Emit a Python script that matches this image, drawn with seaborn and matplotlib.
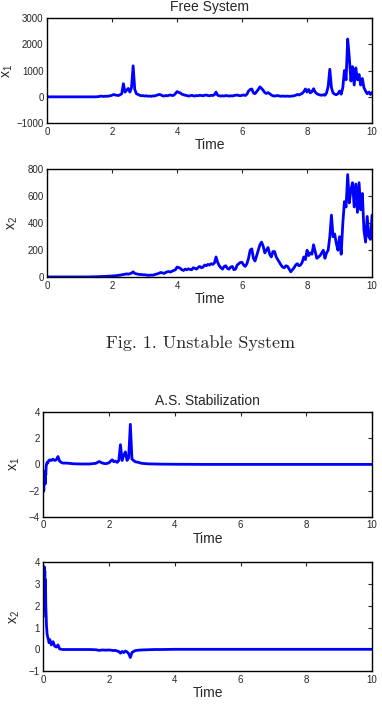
import numpy as np
import pandas as pd
import matplotlib
matplotlib.use("Agg")
import matplotlib.pyplot as plt
import seaborn as sns

# ===== data =====
# Free system: grid of 0.05 from 0 to 10
t_free = np.round(np.arange(0, 10.0001, 0.05), 2)

x1_free = [
    0, 0, 0, 0, 0, 0, 0, 0, 0, 0, 0, 0, 0, 0, 0, 0, 0, 0, 0, 0,
    0, 0, 0, 0, 0, 0, 0, 0, 0, 0, 0, 5, 10, 30, 20, 15, 25, 20, 30, 40,
    60, 90, 70, 60, 50, 80, 120, 500, 180, 250, 320, 180, 350, 1180, 280, 120, 90, 60, 40, 50,
    30, 40, 25, 30, 20, 35, 30, 50, 70, 90, 80, 40, 30, 50, 40, 60, 70, 50, 60, 120,
    200, 170, 150, 100, 80, 60, 50, 30, 40, 60, 40, 30, 50, 40, 60, 50, 40, 60, 70, 50,
    40, 60, 50, 80, 180, 60, 40, 30, 40, 30, 50, 40, 30, 40, 30, 50, 60, 70, 50, 40,
    60, 70, 50, 100, 220, 280, 300, 150, 120, 200, 280, 380, 320, 250, 160, 130, 160, 120, 70, 40,
    30, 40, 50, 30, 20, 30, 25, 20, 30, 20, 25, 30, 40, 60, 90, 70, 100, 130, 200, 300,
    180, 280, 150, 200, 310, 180, 120, 90, 70, 60, 80, 60, 150, 400, 1050, 350, 150, 100, 80, 120,
    220, 100, 350, 1000, 650, 2200, 1500, 600, 1150, 450, 1100, 650, 850, 450, 700, 350, 220, 120, 180, 90,
    170,
]

x2_free = [
    2, 2, 2, 2, 2, 2, 2, 2, 2, 2, 2, 2, 2, 2, 2, 2, 2, 2, 2, 2,
    2, 2, 2, 2, 2, 2, 2, 3, 3, 3, 3, 4, 4, 5, 5, 6, 6, 7, 8, 8,
    9, 10, 11, 12, 14, 15, 18, 20, 22, 25, 22, 26, 30, 40, 28, 25, 22, 20, 20, 18,
    18, 16, 15, 14, 16, 15, 18, 22, 25, 30, 35, 32, 28, 35, 40, 42, 38, 45, 50, 55,
    75, 72, 65, 55, 50, 60, 55, 62, 58, 55, 70, 65, 60, 72, 80, 70, 75, 90, 85, 95,
    90, 100, 95, 105, 150, 110, 85, 70, 60, 80, 85, 65, 60, 75, 80, 55, 60, 90, 100, 110,
    110, 90, 80, 100, 140, 200, 210, 140, 120, 160, 200, 240, 260, 230, 180, 200, 220, 170, 150, 190,
    190, 150, 130, 110, 90, 75, 70, 85, 80, 60, 40, 55, 70, 90, 100, 85, 90, 110, 150, 130,
    200, 160, 180, 170, 240, 190, 140, 150, 160, 180, 200, 140, 180, 200, 300, 460, 300, 320, 250, 200,
    300, 170, 400, 560, 520, 760, 550, 650, 700, 520, 690, 480, 700, 500, 620, 350, 260, 450, 300, 280,
    460,
]

# A.S. stabilization: finer sampling near the start
t_as = [0.0, 0.01, 0.02, 0.03, 0.04, 0.05, 0.06, 0.07, 0.08, 0.09, 0.10,
        0.12, 0.14, 0.16, 0.18, 0.20,
        0.25, 0.30, 0.35, 0.40, 0.45, 0.50, 0.55, 0.60,
        0.70, 0.80, 0.90, 1.00,
        1.20, 1.40, 1.60,
        1.70, 1.80, 1.90, 2.00,
        2.05, 2.10, 2.15, 2.20, 2.25, 2.30, 2.35, 2.40, 2.45, 2.50, 2.55, 2.60, 2.65, 2.70, 2.75, 2.80,
        2.90, 3.00,
        3.20, 3.40, 3.60, 4.00,
        5.0, 6.0, 7.0, 8.0, 9.0, 10.0]

x1_as = [-2.1, -1.6, -2.0, -0.7, -1.4, -0.6, -1.5, -0.5, -0.8, -0.2, 0.0,
         0.15, 0.1, 0.25, 0.3, 0.35,
         0.3, 0.4, 0.3, 0.35, 0.6, 0.25, 0.15, 0.1,
         0.1, 0.08, 0.05, 0.04,
         0.03, 0.03, 0.08,
         0.22, 0.1, 0.05, 0.12,
         0.25, 0.35, 0.2, 0.25, 0.15, 0.3, 1.5, 0.3, 0.7, 0.95, 0.3, 0.5, 3.05, 0.4, 0.3, 0.2,
         0.15, 0.08,
         0.04, 0.03, 0.02, 0.01,
         0, 0, 0, 0, 0, 0]

x2_as = [1.5, 3.7, 3.5, 3.8, 3.0, 3.6, 2.4, 3.2, 2.0, 1.6, 1.1,
         0.7, 0.55, 0.45, 0.3, 0.45,
         0.2, 0.35, 0.15, 0.1, 0.2, 0.02, 0.0, -0.01,
         -0.01, -0.01, -0.01, -0.01,
         -0.01, -0.01, -0.02,
         -0.05, -0.03, -0.04, -0.03,
         -0.04, -0.05, -0.06, -0.05, -0.08, -0.1, -0.18, -0.1, -0.15, -0.08, -0.12, -0.2, -0.38, -0.15, -0.1, -0.06,
         -0.04, -0.03,
         -0.02, -0.01, -0.01, 0.0,
         0, 0, 0, 0, 0, 0]

free = pd.DataFrame({"Time": t_free, "x1": x1_free, "x2": x2_free})
stab = pd.DataFrame({"Time": t_as, "x1": x1_as, "x2": x2_as})

# ===== style =====
sns.set_style("white")
plt.rcParams["font.family"] = ["Liberation Sans", "DejaVu Sans"]
plt.rcParams["mathtext.default"] = "regular"
plt.rcParams["axes.unicode_minus"] = True

fig = plt.figure(figsize=(3.82, 7.2), dpi=100)

panels = [
    # rect, df, column, ylim, yticks, ylabel, labelpad, title
    ([0.123, 0.829, 0.851, 0.146], free, "x1", (-1000, 3000), [-1000, 0, 1000, 2000, 3000], "x$_1$", 1, "Free System"),
    ([0.123, 0.615, 0.851, 0.150], free, "x2", (0, 800), [0, 200, 400, 600, 800], "x$_2$", 5, None),
    ([0.113, 0.282, 0.861, 0.146], stab, "x1", (-4, 4), [-4, -2, 0, 2, 4], "x$_1$", 5, "A.S. Stabilization"),
    ([0.113, 0.068, 0.861, 0.151], stab, "x2", (-1, 4), [-1, 0, 1, 2, 3, 4], "x$_2$", 5, None),
]

for rect, df, col, ylim, yticks, ylab, lpad, title in panels:
    ax = fig.add_axes(rect)
    sns.lineplot(data=df, x="Time", y=col, ax=ax, color="#0000ff", linewidth=2.0,
                 estimator=None, sort=False)
    ax.set_xlim(0, 10)
    ax.set_ylim(*ylim)
    ax.set_xticks([0, 2, 4, 6, 8, 10])
    ax.set_yticks(yticks)
    ax.tick_params(direction="in", length=3, width=0.8, labelsize=7,
                   top=True, right=True, pad=2.5)
    for s in ax.spines.values():
        s.set_visible(True)
        s.set_color("black")
        s.set_linewidth(1.0)
    ax.set_xlabel("Time", fontsize=10, labelpad=1)
    ax.set_ylabel(ylab, fontsize=10, labelpad=lpad)
    if title:
        ax.set_title(title, fontsize=10, pad=5)

fig.text(0.526, 0.524, "Fig. 1. Unstable System", family=["cmr10", "DejaVu Serif"],
         fontsize=13, ha="center", va="center")

fig.savefig("out.png", dpi=100)
